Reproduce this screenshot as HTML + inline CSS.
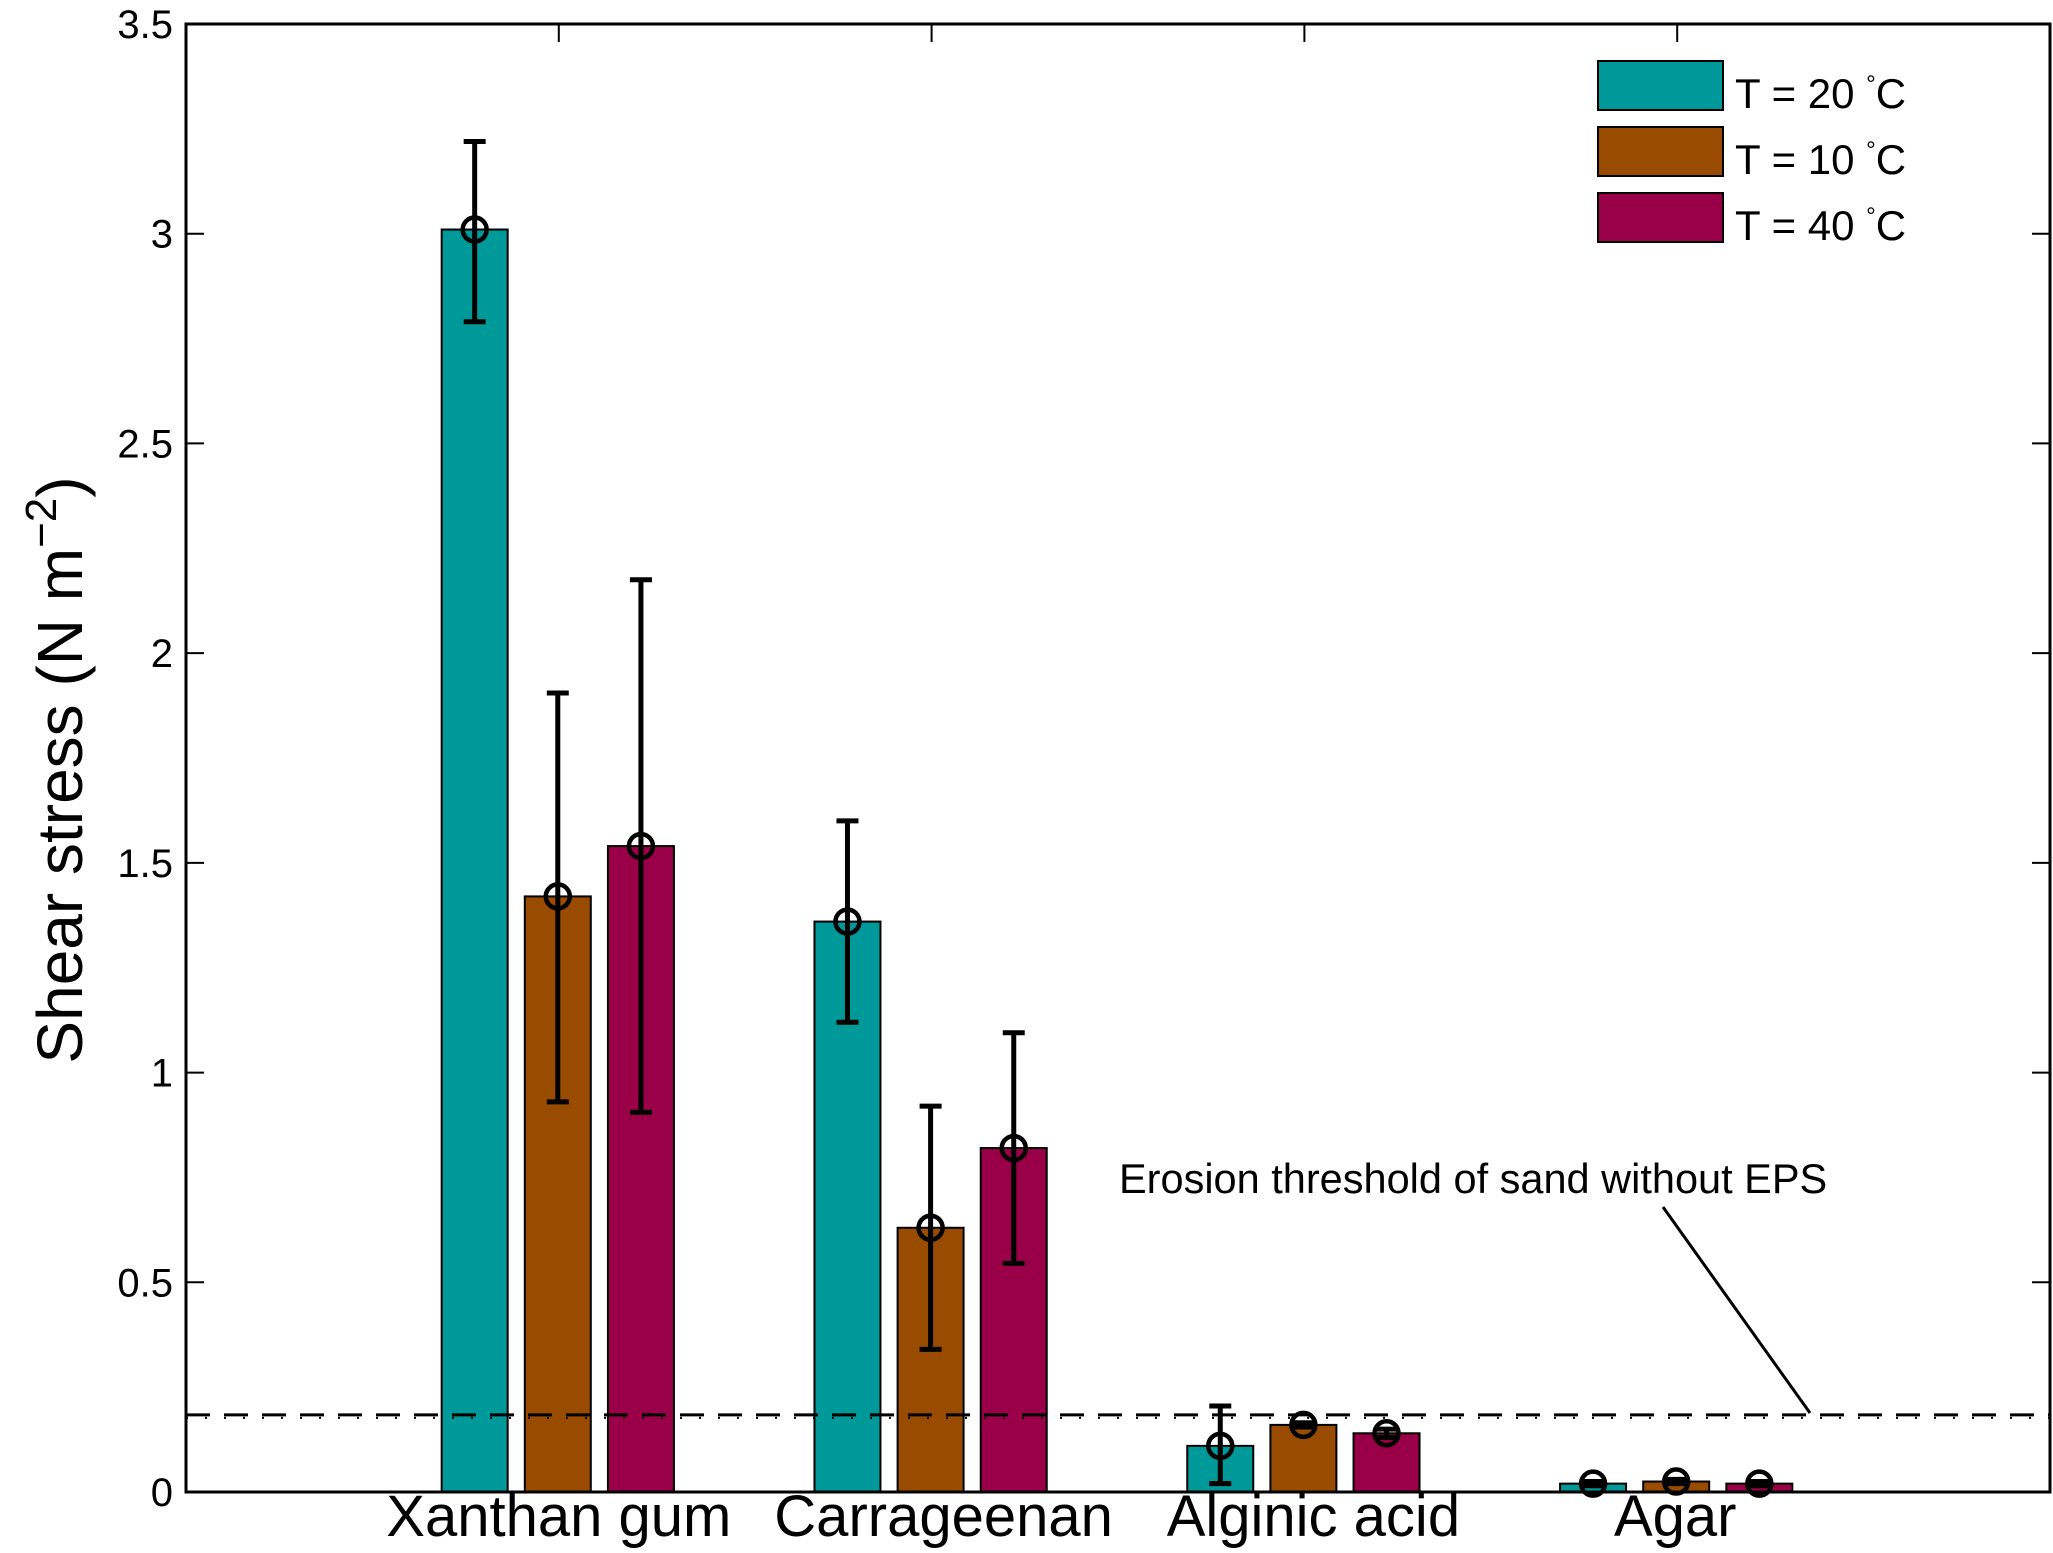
<!DOCTYPE html>
<html><head><meta charset="utf-8"><style>
html,body{margin:0;padding:0;background:#fff;}
svg{display:block;font-family:"Liberation Sans",Arial,sans-serif;}
</style></head><body>
<svg id="chart" width="2053" height="1553" viewBox="0 0 2053 1553" xmlns="http://www.w3.org/2000/svg">
<g id="plot"></g>
</svg>
<script>
const categories = ["Xanthan gum","Carrageenan","Alginic acid","Agar"];
const seriesNames = ["T = 20 °C","T = 10 °C","T = 40 °C"];
const seriesColors = ["#009999","#994C00","#990047"];
const values20 = [3.01, 1.36, 0.11, 0.02];
const values10 = [1.42, 0.63, 0.16, 0.025];
const values40 = [1.54, 0.82, 0.14, 0.02];
const errLow20 = [2.79, 1.12, 0.02, 0.015];
const errHigh20 = [3.22, 1.60, 0.205, 0.025];
const errLow10 = [0.93, 0.34, 0.155, 0.02];
const errHigh10 = [1.905, 0.92, 0.165, 0.03];
const errLow40 = [0.905, 0.545, 0.13, 0.015];
const errHigh40 = [2.175, 1.095, 0.15, 0.025];
const yTicks = [0, 0.5, 1, 1.5, 2, 2.5, 3, 3.5];
const yTickLabels = ["0","0.5","1","1.5","2","2.5","3","3.5"];
const threshold = 0.184;

const NS = "http://www.w3.org/2000/svg";
const L = 186, R = 2050, T = 24, B = 1492;
const xMin = 0, xMax = 5, yMin = 0, yMax = 3.5;
function xs(v){ return L + (v - xMin) / (xMax - xMin) * (R - L); }
function ys(v){ return B - (v - yMin) / (yMax - yMin) * (B - T); }
const barW = 0.177, barOff = 0.223;
const labelShift = [0, 12, 9, -2];
const g = document.getElementById('plot');
function el(tag, attrs, parent){
  const e = document.createElementNS(NS, tag);
  for (const k in attrs) e.setAttribute(k, attrs[k]);
  (parent || g).appendChild(e);
  return e;
}
const vals = [values20, values10, values40];
const lows = [errLow20, errLow10, errLow40];
const highs = [errHigh20, errHigh10, errHigh40];

// bars
for (let s = 0; s < 3; s++) {
  for (let c = 0; c < categories.length; c++) {
    const cx = (c + 1) + (s - 1) * barOff;
    const v = vals[s][c];
    const r = el('rect', {x:xs(cx - barW/2) - 1, y:ys(v), width:xs(cx + barW/2) - xs(cx - barW/2), height:ys(0) - ys(v), fill:seriesColors[s], stroke:'#000', 'stroke-width':2});
    
    
  }
}
// threshold line (dash-dot)
let t1 = el('line', {x1:L, x2:R, y1:ys(threshold), y2:ys(threshold), stroke:'#000', 'stroke-width':3, 'stroke-dasharray':'24 14'});


let t2 = el('line', {x1:L, x2:R, y1:ys(threshold)+3, y2:ys(threshold)+3, stroke:'#000', 'stroke-width':2, 'stroke-dasharray':'2 17'});


// error bars + markers
for (let s = 0; s < 3; s++) {
  for (let c = 0; c < categories.length; c++) {
    const cx = xs((c + 1) + (s - 1) * barOff) - 1;
    const eg = el('g', {});
    
    
    const lo = ys(lows[s][c]), hi = ys(highs[s][c]);
    el('line', {x1:cx, x2:cx, y1:lo, y2:hi, stroke:'#000', 'stroke-width':5}, eg);
    el('line', {x1:cx-11, x2:cx+11, y1:lo, y2:lo, stroke:'#000', 'stroke-width':5}, eg);
    el('line', {x1:cx-11, x2:cx+11, y1:hi, y2:hi, stroke:'#000', 'stroke-width':5}, eg);
    const m = el('circle', {cx:cx, cy:ys(vals[s][c]), r:12, fill:'none', stroke:'#000', 'stroke-width':4.5});
    
    
  }
}
// axes box
const box = el('rect', {x:L, y:T, width:R-L, height:B-T, fill:'none', stroke:'#000', 'stroke-width':3});


// y ticks
for (let i = 0; i < yTicks.length; i++) {
  const y = ys(yTicks[i]);
  if (i > 0 && i < yTicks.length - 1) {
    el('line', {x1:L, x2:L+18, y1:y, y2:y, stroke:'#000', 'stroke-width':2});
    el('line', {x1:R-18, x2:R, y1:y, y2:y, stroke:'#000', 'stroke-width':2});
  }
  const tx = el('text', {x:173, y:y+14, 'font-size':40, 'text-anchor':'end'});
  tx.textContent = yTickLabels[i];
  
  
}
// x ticks & labels
for (let c = 0; c < categories.length; c++) {
  const x = xs(c + 1);
  el('line', {x1:x, x2:x, y1:T, y2:T+18, stroke:'#000', 'stroke-width':2});
  const tx = el('text', {x:x + labelShift[c], y:1536, 'font-size':58, 'text-anchor':'middle'});
  tx.textContent = categories[c];
  
  
}
// y axis title
const yt = el('text', {x:0, y:0, 'font-size':64, 'text-anchor':'middle', transform:'translate(82,770) rotate(-90)'});
yt.innerHTML = 'Shear stress (N m<tspan dy="-26" font-size="44">−2</tspan><tspan dy="26">)</tspan>';


// legend
const lg = el('g', {});


const legY = [61, 127, 193];
for (let s = 0; s < 3; s++) {
  const lr = el('rect', {x:1598, y:legY[s], width:125, height:49, fill:seriesColors[s], stroke:'#000', 'stroke-width':2}, lg);
  
  
  const lt = el('text', {x:1735, y:legY[s]+47, 'font-size':42}, lg);
  lt.innerHTML = seriesNames[s].replace('°C','<tspan dy="-16" font-size="24">°</tspan><tspan dy="16">C</tspan>');
  
  
}
// annotation
const an = el('text', {x:1119, y:1193, 'font-size':41.5});
an.textContent = 'Erosion threshold of sand without EPS';


const al = el('line', {x1:1663, y1:1207, x2:1810, y2:1413, stroke:'#000', 'stroke-width':3});


</script>
</body></html>
